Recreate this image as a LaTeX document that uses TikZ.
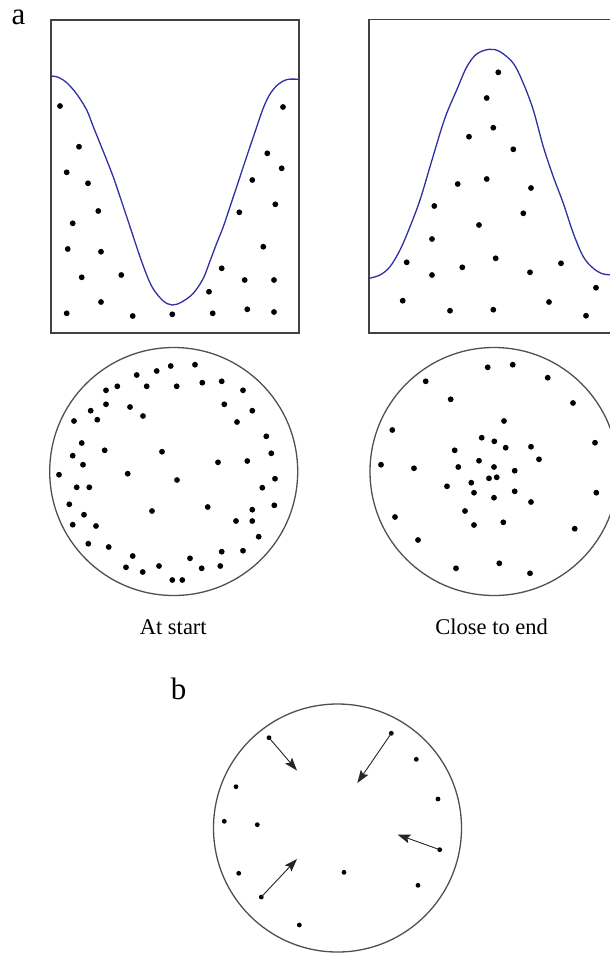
\documentclass[tikz,border=0pt]{standalone}
\usepackage{fontspec}
\setmainfont{Liberation Serif}
\usetikzlibrary{arrows.meta}
\definecolor{curveblue}{RGB}{48,48,160}
\definecolor{framegray}{RGB}{65,65,65}
\definecolor{circgray}{RGB}{80,80,80}
\tikzset{
  frame/.style={draw=framegray, line width=1.5pt},
  ring/.style={draw=circgray, line width=1.3pt},
  curve/.style={draw=curveblue, line width=1.3pt},
  dotmark/.style={fill=black},
  lab/.style={font=\fontsize{31}{35}\selectfont, inner sep=0pt},
  captiontext/.style={font=\fontsize{22.5}{26}\selectfont, inner sep=0pt},
  mover/.style={draw=black!85, line width=0.9pt, -{Stealth[length=13pt,width=9pt,inset=2.5pt]}}
}
\begin{document}
\begin{tikzpicture}[x=1pt,y=-1pt]
\useasboundingbox (0,0) rectangle (610,954);
\fill[white] (0,0) rectangle (610,954);
\begin{scope}
\clip (0,0) rectangle (610,954);
% labels
\node[lab] (la) at (18.5,17.5) {a};
\node[lab] (lb) at (178.5,689) {b};
\node[captiontext] (cs) at (173.3,627) {At start};
\node[captiontext] (ce) at (491.7,627) {Close to end};

% left frame
\draw[frame] (51,20) rectangle (299,333);
\draw[curve] plot[smooth, tension=0.55] coordinates {
(51,76) (58.3,77.3) (66.7,82.7) (76.7,94) (86.7,110) (93.3,126.7) (100,143.3)
(106.7,160) (113.3,177) (120,196.7) (126.7,216.7) (133.3,236.7) (140,256.7)
(146.7,275) (153.3,289) (163.3,301) (172.3,305) (181.7,302) (193.3,293.3)
(203.3,278.3) (210,261) (216.7,243.3) (223.3,226.7) (230,206.7) (236.7,186.7)
(243.3,166.7) (250,146.7) (256.7,127) (263.3,108) (270,94) (278,84.5)
(287,79.5) (299,79.3)};
\foreach \p in {(60,106),(79,146.7),(66.7,172.3),(88,183.3),(98.3,211),(72.7,223.3),
(67.7,249),(101,251.7),(81.7,277.3),(121.3,275),(101,302),(66.7,313.3),(132.7,316),
(172.3,314.3),(209,291.7),(212.7,313.3),(221.7,268.3),(239.3,212.3),(244.7,280),
(247.3,309.3),(252.3,180),(263.3,246.7),(267.3,153.3),(275.3,204.3),(274,280),
(274,312),(281.7,168.3),(283,107)}
  \fill[dotmark] \p circle (2.9);

% right frame
\draw[frame] (369,19.5) rectangle (617,333);
\draw[curve] plot[smooth, tension=0.55] coordinates {
(369,278.3) (380,275) (390,266.7) (400,250) (410,226.7) (420,200) (430,166.7)
(440,133.3) (446.7,113.3) (456.7,90) (466.7,67) (476.7,54) (489.3,49.3)
(500,51.7) (513.3,63.3) (523.3,83.3) (533.3,110) (543.3,146.7) (553.3,176.7)
(563.3,203.3) (573.3,233.3) (583.3,256.7) (593.3,268.3) (603.3,274) (617,275)};
\foreach \p in {(498.3,72.3),(486.7,98),(493.3,127.7),(469,136.7),(513.3,149.3),
(457.7,184),(486.7,179),(531,188),(434.3,206),(523.3,213.3),(479,225),(432,239),
(495.7,258.3),(406.7,262.3),(462.3,267.3),(561,263.3),(432,275),(530,272.3),
(596,287.7),(402.7,300.7),(450,310.7),(493.3,309.7),(549,302),(586,315.7)}
  \fill[dotmark] \p circle (2.9);

% left circle
\draw[ring] (173.7,471.5) circle (124);
\foreach \p in {(195,364.7),(170.7,366),(156.7,371),(136.7,375),(202.3,382.7),
(221.7,381.3),(117.3,386.3),(146.7,386.3),(176.7,386.3),(106,390.3),(243,390.3),
(106,404.3),(224.3,404.3),(130,407),(90.7,410.7),(252.3,410.7),(143,416),(74,421),
(97.3,419.7),(237,422),(266.3,436.3),(81.7,443),(104.7,450.3),(162,451.7),
(271.3,453.3),(72.7,455.7),(218,462.3),(247.3,461),(83,464.7),(59,474.7),
(127.7,473.7),(177,480),(275,478.7),(76.7,487.3),(89.3,487.3),(262.3,487.7),
(69.3,504.3),(207.7,507),(274.3,505.3),(152,511),(252.3,509.7),(84,514.7),
(236,521),(252.3,521),(72.7,524.7),(96,526),(258.7,536.7),(88.3,543.7),
(108.7,547),(221.7,551.7),(243,550.7),(132.7,556),(190,558.3),(126,567.3),
(159,566),(201.7,568.3),(220.3,566),(142.7,572),(172.3,580),(182.3,580)}
  \fill[dotmark] \p circle (2.9);

% right circle
\draw[ring] (494,471.5) circle (124);
\foreach \p in {(512.7,364.7),(487.7,367.3),(547.7,377.7),(425.7,381.3),(450.7,399.3),
(573,403),(504,421),(392.3,430),(481.7,437.7),(494.3,441.3),(595,442.7),(505.7,447.7),
(531,446.7),(454.7,450.3),(539,459.3),(479,460.7),(381,464.7),(458.3,467),(494,467),
(414,468.3),(514.7,470.7),(489,478.3),(496.7,477.3),(471.3,482.7),(447,486.3),
(474,492.7),(514.7,491.3),(596.3,492.7),(494,497.7),(531,502),(465,511),(395,517),
(503.3,522.3),(474,525),(574.7,528.7),(418,540),(499.3,563.3),(456,568.3),(530,573.3)}
  \fill[dotmark] \p circle (2.9);

% bottom circle
\draw[ring] (337.5,828) circle (124);
\foreach \p in {(416.3,759.3),(236,786.7),(438,799),(224.3,821.3),(257.3,824.7),
(238.7,873.3),(344,872.3),(418,885.3),(299.3,925)}
  \fill[dotmark] \p circle (2.4);
\coordinate (s1) at (269,737.7);   \coordinate (e1) at (297,770.5);
\coordinate (s2) at (391.3,733.3); \coordinate (e2) at (357.3,783);
\coordinate (s3) at (439.7,849.7); \coordinate (e3) at (397.5,834.5);
\coordinate (s4) at (261.3,897);   \coordinate (e4) at (297,859);
\foreach \i in {1,2,3,4} {
  \fill[dotmark] (s\i) circle (2.4);
  \draw[mover] (s\i) -- (e\i);
}
\end{scope}
\end{tikzpicture}
\end{document}
